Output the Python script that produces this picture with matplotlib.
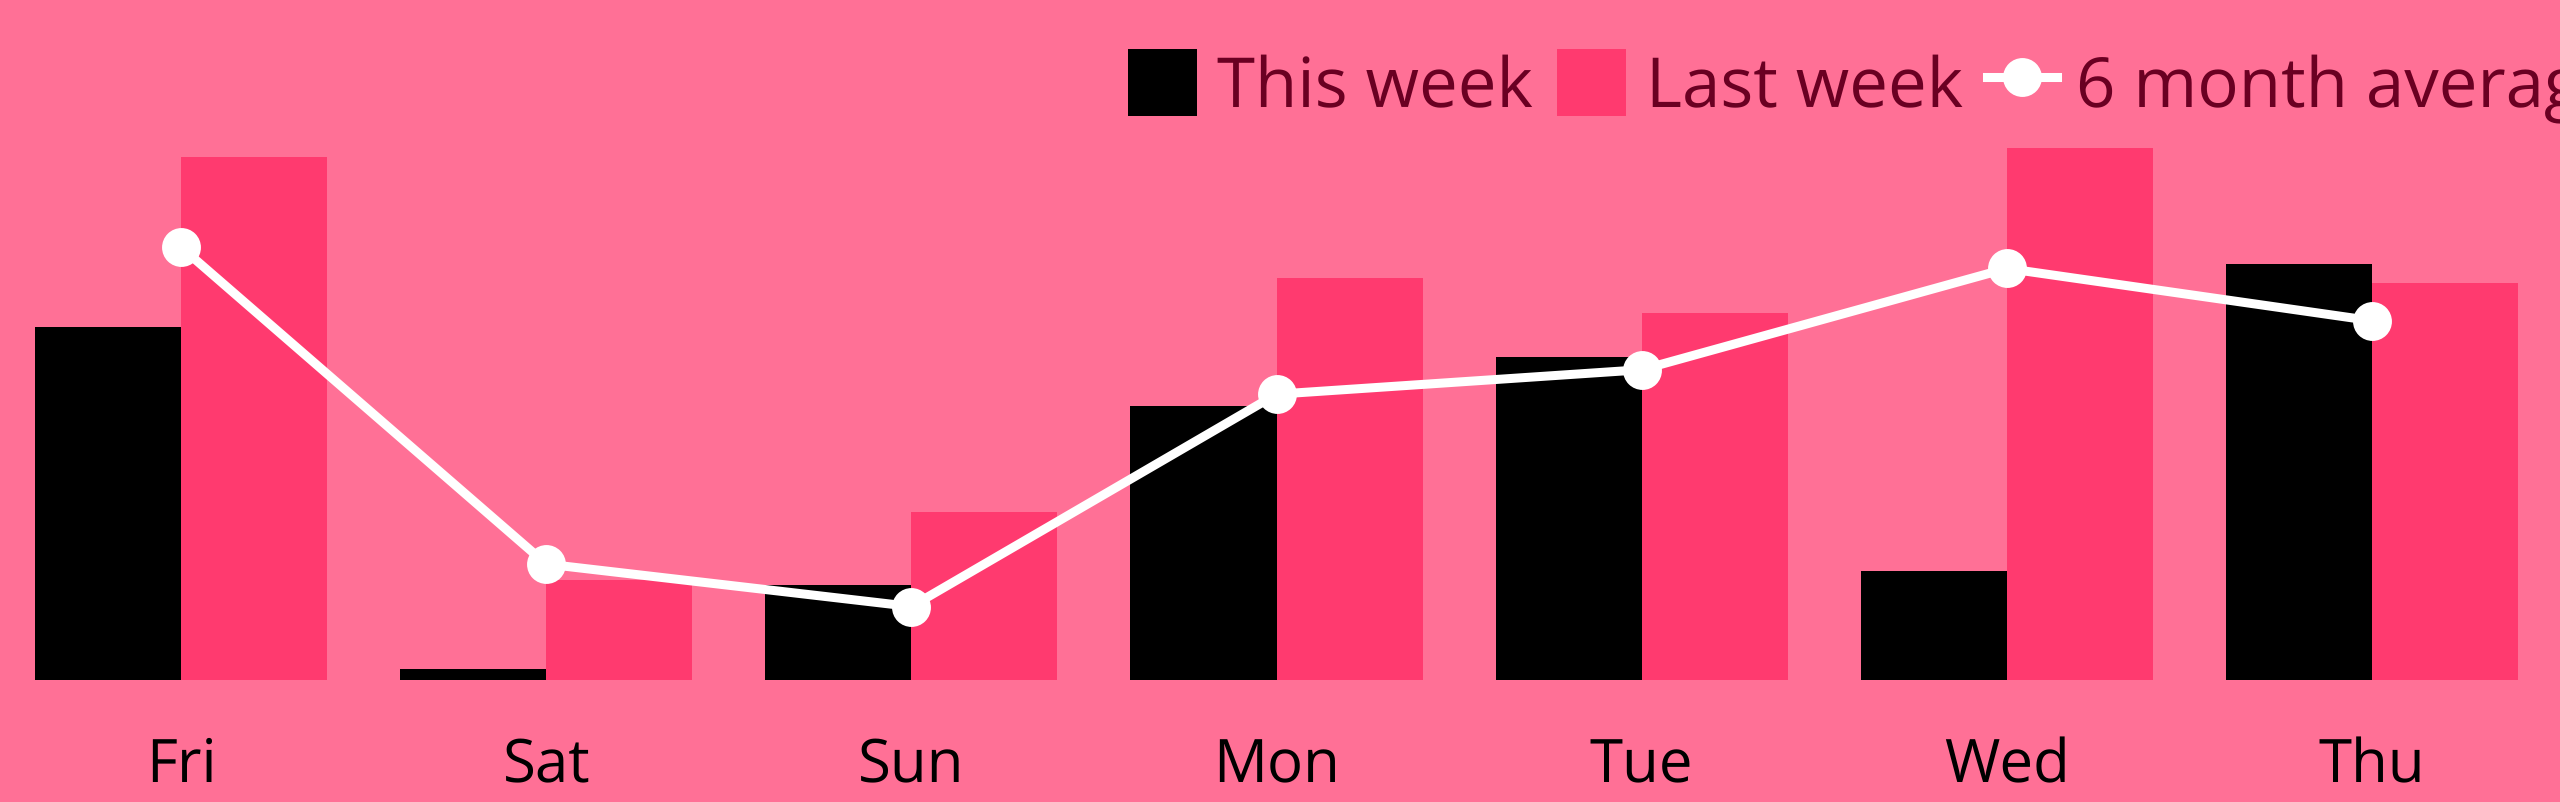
import matplotlib.pyplot as plt
import numpy as np

# data (arbitrary units)
days = ['Fri', 'Sat', 'Sun', 'Mon', 'Tue', 'Wed', 'Thu']
this_week = [216, 7, 58, 168, 198, 67, 255]
last_week = [320, 61, 103, 246, 225, 326, 243]
six_month_avg = [265, 71, 45, 175, 190, 252, 220]

bg = '#ff7096'
pink = '#ff3a6f'
txt = '#6a0022'

plt.rcParams['font.family'] = ['Open Sans', 'DejaVu Sans']
plt.rcParams['text.hinting'] = 'no_hinting'
plt.rcParams['text.hinting_factor'] = 1

fig = plt.figure(figsize=(25.6, 8.03), dpi=100, facecolor=bg)
ax = fig.add_axes([0, 122/803, 1, 681/803])
ax.set_facecolor(bg)

x = np.arange(len(days))
w = 0.4
b1 = ax.bar(x - w/2, this_week, width=w, color='black', label='This week', zorder=2)
b2 = ax.bar(x + w/2, last_week, width=w, color=pink, label='Last week', zorder=2)
ln, = ax.plot(x, six_month_avg, color='white', linewidth=6.5, marker='o',
              markersize=28, markeredgewidth=0, label='6 month average', zorder=3)

ax.set_xlim(-0.496, 6.515)
ax.set_ylim(0, 417)

#axis formatting
for s in ax.spines.values():
    s.set_visible(False)
ax.set_yticks([])
ax.set_xticks(x)
ax.set_xticklabels(days, fontsize=43)
ax.tick_params(axis='x', length=0, pad=40, colors='black')

leg = ax.legend(handles=[b1, b2, ln], loc='upper left',
                bbox_to_anchor=(1128/2560, 1 - 50/803),
                bbox_transform=fig.transFigure, ncol=3, frameon=False,
                fontsize=50, borderpad=0, borderaxespad=0,
                handlelength=1.0, handleheight=1.1, handletextpad=0.28,
                columnspacing=0.35)
for t in leg.get_texts():
    t.set_color(txt)

plt.savefig('out.png', dpi=100, facecolor=bg)
